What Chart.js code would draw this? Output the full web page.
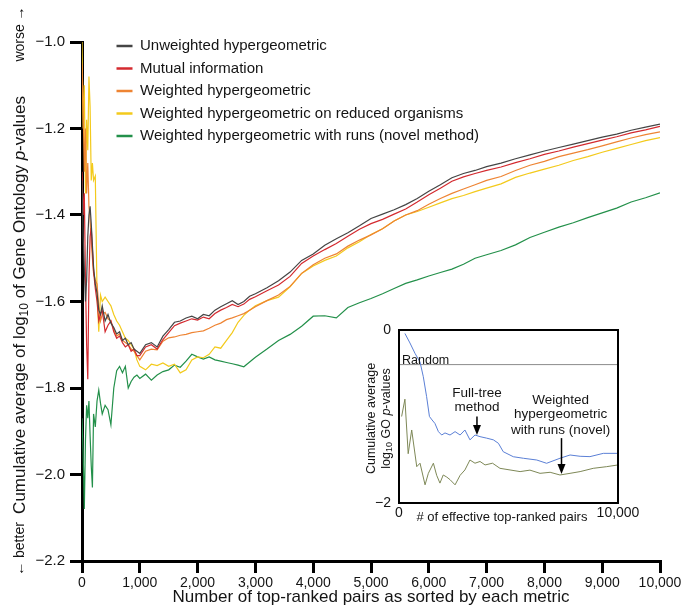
<!DOCTYPE html>
<html>
<head>
<meta charset="utf-8">
<script src="https://cdn.jsdelivr.net/npm/chart.js@4.4.1/dist/chart.umd.min.js"></script>
<style>
  html, body { margin: 0; padding: 0; background: #fff; }
  #wrap { position: relative; width: 685px; height: 615px; }
  #wrap canvas { position: absolute; left: 0; top: 0; }
</style>
</head>
<body>
<div id="wrap">
  <canvas id="main" width="685" height="615"></canvas>
  <canvas id="inset" width="685" height="615"></canvas>
</div>
<script>
// number of top-ranked pairs (x positions shared by all five curves)
var pairs = [0, 20, 40, 60, 80, 100, 120, 140, 160, 180, 200, 230, 260, 290, 320, 350, 400, 450, 500, 550,
  600, 650, 700, 750, 800, 850, 900, 950, 1000,
  1100, 1200, 1300, 1400, 1500, 1600, 1700, 1800, 1900, 2000, 2100, 2200, 2300, 2400, 2500, 2600, 2700, 2800, 2900, 3000,
  3200, 3400, 3600, 3800, 4000, 4200, 4400, 4600, 4800, 5000, 5200, 5400, 5600, 5800, 6000, 6200, 6400, 6600, 6800,
  7000, 7250, 7500, 7750, 8000, 8250, 8500, 8750, 9000, 9250, 9500, 9750, 10000];

var unweighted = [-1.32, -1.45, -1.52, -1.60, -1.55, -1.45, -1.40, -1.38, -1.42, -1.47, -1.52, -1.56, -1.58, -1.62, -1.63, -1.61, -1.645, -1.63, -1.65, -1.66,
  -1.675, -1.67, -1.69, -1.685, -1.70, -1.695, -1.71, -1.715, -1.72,
  -1.70, -1.695, -1.705, -1.68, -1.665, -1.648, -1.645, -1.638, -1.634, -1.640, -1.630, -1.633, -1.620, -1.612, -1.605, -1.598, -1.607, -1.600, -1.588, -1.582,
  -1.568, -1.552, -1.532, -1.505, -1.490, -1.470, -1.455, -1.441, -1.425, -1.408, -1.398, -1.388, -1.376, -1.362, -1.345, -1.330, -1.314, -1.304, -1.297,
  -1.288, -1.280, -1.270, -1.261, -1.252, -1.244, -1.236, -1.228, -1.220, -1.213, -1.204, -1.197, -1.190];

var mutualInfo = [-1.30, -1.40, -1.35, -1.55, -1.70, -1.78, -1.55, -1.45, -1.43, -1.48, -1.53, -1.57, -1.60, -1.645, -1.63, -1.62, -1.67, -1.655, -1.645, -1.67,
  -1.685, -1.68, -1.695, -1.705, -1.70, -1.715, -1.71, -1.725, -1.725,
  -1.705, -1.700, -1.710, -1.688, -1.672, -1.656, -1.650, -1.645, -1.640, -1.643, -1.636, -1.640, -1.628, -1.620, -1.614, -1.607, -1.612, -1.606, -1.595, -1.589,
  -1.575, -1.562, -1.542, -1.512, -1.495, -1.480, -1.466, -1.449, -1.433, -1.420, -1.410, -1.398, -1.386, -1.370, -1.353, -1.338, -1.322, -1.312, -1.304,
  -1.297, -1.289, -1.279, -1.270, -1.260, -1.252, -1.243, -1.235, -1.227, -1.219, -1.210, -1.203, -1.195];

var weighted = [-1.05, -1.15, -1.30, -1.20, -1.35, -1.28, -1.38, -1.41, -1.46, -1.50, -1.535, -1.55, -1.56, -1.61, -1.645, -1.63, -1.625, -1.64, -1.645, -1.665,
  -1.68, -1.675, -1.69, -1.695, -1.70, -1.71, -1.715, -1.725, -1.735,
  -1.715, -1.710, -1.712, -1.692, -1.684, -1.682, -1.678, -1.676, -1.672, -1.670, -1.668, -1.662, -1.655, -1.650, -1.642, -1.638, -1.633, -1.628, -1.620, -1.612,
  -1.598, -1.585, -1.565, -1.535, -1.515, -1.500, -1.490, -1.472, -1.458, -1.446, -1.432, -1.414, -1.400, -1.390, -1.375, -1.362, -1.350, -1.340, -1.330,
  -1.320, -1.311, -1.297, -1.285, -1.276, -1.265, -1.257, -1.249, -1.240, -1.231, -1.222, -1.214, -1.208];

var weightedReduced = [-1.00, -1.20, -1.10, -1.35, -1.18, -1.25, -1.08, -1.15, -1.32, -1.28, -1.32, -1.31, -1.58, -1.67, -1.585, -1.60, -1.59, -1.60, -1.61, -1.63,
  -1.645, -1.655, -1.67, -1.685, -1.69, -1.70, -1.71, -1.735, -1.75,
  -1.758, -1.745, -1.748, -1.742, -1.750, -1.745, -1.765, -1.758, -1.735, -1.728, -1.730, -1.722, -1.705, -1.708, -1.690, -1.672, -1.648, -1.632, -1.620, -1.610,
  -1.598, -1.590, -1.566, -1.535, -1.518, -1.505, -1.495, -1.476, -1.462, -1.445, -1.432, -1.414, -1.400, -1.392, -1.382, -1.372, -1.362, -1.355, -1.346,
  -1.338, -1.328, -1.313, -1.303, -1.294, -1.285, -1.274, -1.265, -1.255, -1.246, -1.237, -1.228, -1.221];

var weightedRuns = [-1.87, -1.95, -2.08, -1.92, -1.84, -1.87, -1.83, -1.91, -1.98, -2.03, -1.86, -1.89, -1.83, -1.805, -1.835, -1.86, -1.84, -1.85, -1.885, -1.80,
  -1.76, -1.75, -1.765, -1.75, -1.80, -1.785, -1.775, -1.77, -1.778,
  -1.768, -1.782, -1.770, -1.762, -1.758, -1.747, -1.752, -1.738, -1.722, -1.728, -1.733, -1.728, -1.735, -1.738, -1.741, -1.744, -1.747, -1.751, -1.740, -1.729,
  -1.710, -1.690, -1.676, -1.657, -1.634, -1.633, -1.638, -1.614, -1.603, -1.593, -1.582, -1.570, -1.558, -1.550, -1.541, -1.533, -1.525, -1.514, -1.500,
  -1.492, -1.482, -1.469, -1.452, -1.440, -1.428, -1.418, -1.406, -1.395, -1.384, -1.370, -1.360, -1.349];

var seriesNames = ['Unweighted hypergeometric', 'Mutual information', 'Weighted hypergeometric',
  'Weighted hypergeometric on reduced organisms', 'Weighted hypergeometric with runs (novel method)'];
var seriesColors = ['#454545', '#d42a2f', '#ee8433', '#f3ca1c', '#23904a'];
var yTicks = [-2.2, -2.0, -1.8, -1.6, -1.4, -1.2, -1.0];

// inset: # of effective top-ranked pairs
var fullTreeX = [270, 500, 730, 960, 1110, 1260, 1390, 1510, 1640, 1800, 1950, 2100, 2330, 2560, 2790, 3010, 3240, 3470, 3700,
  4000, 4310, 4540, 4760, 5220, 5680, 6290, 6740, 7350, 7810, 8270, 8720, 9330, 10000];
var fullTreeY = [-0.04, -0.15, -0.27, -0.37, -0.54, -0.77, -1.00, -1.04, -1.08, -1.175, -1.214, -1.19, -1.214, -1.175, -1.214, -1.156, -1.27, -1.214, -1.233,
  -1.25, -1.27, -1.31, -1.407, -1.465, -1.483, -1.503, -1.541, -1.483, -1.445, -1.46, -1.464, -1.426, -1.426];
var novelX = [120, 270, 420, 580, 810, 960, 1190, 1340, 1570, 1720, 1870, 2020, 2180, 2330, 2560, 2790, 3010, 3240, 3470, 3700,
  3930, 4270, 4610, 5070, 5530, 5980, 6440, 6900, 7350, 7810, 8270, 8870, 9480, 10000];
var novelY = [-1.00, -0.80, -1.43, -1.156, -1.58, -1.54, -1.79, -1.657, -1.54, -1.68, -1.77, -1.676, -1.70, -1.73, -1.79, -1.68, -1.618, -1.503, -1.54, -1.52,
  -1.56, -1.54, -1.599, -1.618, -1.637, -1.62, -1.657, -1.645, -1.676, -1.657, -1.637, -1.599, -1.58, -1.56];
var randomLevel = -0.4;

var FONT = '"Liberation Sans", Arial, Helvetica, sans-serif';
var INK = '#141414';

function minus(s) { return String(s).replace('-', '\u2212'); }
function font(size, italic) { return (italic ? 'italic ' : '') + size + 'px ' + FONT; }

// draw a line of text made of runs (for subscripts / italics), centred at cx, cy
function richText(ctx, runs, cx, cy, vertical) {
  ctx.save();
  ctx.translate(cx, cy);
  if (vertical) ctx.rotate(-Math.PI / 2);
  ctx.textBaseline = 'middle';
  ctx.textAlign = 'left';
  ctx.fillStyle = INK;
  var total = 0;
  runs.forEach(function (r) { ctx.font = r.font; r.w = ctx.measureText(r.text).width; total += r.w; });
  var x = -total / 2;
  runs.forEach(function (r) { ctx.font = r.font; ctx.fillText(r.text, x, r.dy || 0); x += r.w; });
  ctx.restore();
}

var mainDecor = {
  id: 'mainDecor',
  afterLayout: function (chart) {
    // put the legend inside the plot, top left
    var lg = chart.legend;
    lg.left = 109;
    lg.top = 31;
  },
  afterDraw: function (chart) {
    var ctx = chart.ctx;
    var y = chart.scales.y;
    richText(ctx, [
      {text: 'Cumulative average of log', font: font(17)},
      {text: '10', font: font(12), dy: 5},
      {text: ' of Gene Ontology ', font: font(17)},
      {text: 'p', font: font(17, true)},
      {text: '-values', font: font(17)}
    ], 20, 305, true);
    richText(ctx, [{text: 'worse \u2192', font: font(14)}], 20, y.getPixelForValue(-1.0) - 8, true);
    richText(ctx, [{text: '\u2190 better', font: font(14)}], 20, y.getPixelForValue(-2.2) - 12, true);
  }
};

var mainChart = new Chart(document.getElementById('main'), {
  type: 'line',
  data: {
    datasets: seriesNames.map(function (name, k) {
      var vals = [unweighted, mutualInfo, weighted, weightedReduced, weightedRuns][k];
      return {
        label: name,
        data: pairs.map(function (x, i) { return {x: x, y: vals[i]}; }),
        borderColor: seriesColors[k],
        backgroundColor: seriesColors[k],
        borderWidth: 1.2,
        pointRadius: 0,
        tension: 0
      };
    })
  },
  options: {
    responsive: false,
    animation: false,
    layout: {padding: {left: 0, right: 25, top: 42, bottom: 0}},
    plugins: {
      tooltip: {enabled: false},
      legend: {
        position: 'chartArea',
        align: 'start',
        labels: {
          usePointStyle: true,
          pointStyle: 'line',
          pointStyleWidth: 16,
          padding: 7.5,
          color: INK,
          font: {family: FONT, size: 15},
          generateLabels: function (chart) {
            return Chart.defaults.plugins.legend.labels.generateLabels(chart).map(function (it) {
              it.lineWidth = 2.5;
              return it;
            });
          }
        }
      }
    },
    scales: {
      x: {
        type: 'linear',
        min: 0,
        max: 10000,
        ticks: {
          stepSize: 1000, autoSkip: false, maxRotation: 0, padding: 2, color: INK,
          font: {family: FONT, size: 14},
          callback: function (v) { return v.toLocaleString('en-US'); }
        },
        grid: {drawOnChartArea: false, color: '#000', lineWidth: 3, tickLength: 12},
        border: {display: true, color: '#000', width: 3},
        title: {
          display: true,
          text: 'Number of top-ranked pairs as sorted by each metric',
          color: INK,
          font: {family: FONT, size: 17},
          padding: {top: 0, bottom: 7}
        },
        afterFit: function (s) { s.height = 54; }
      },
      y: {
        min: -2.2,
        max: -1.0,
        afterBuildTicks: function (s) { s.ticks = yTicks.map(function (v) { return {value: v}; }); },
        ticks: {
          padding: 5, color: INK,
          font: {family: FONT, size: 15},
          callback: function (v) { return minus(v.toFixed(1)); }
        },
        grid: {drawOnChartArea: false, color: '#000', lineWidth: 3, tickLength: 12},
        border: {display: true, color: '#000', width: 3},
        afterFit: function (s) { s.width = 82; }
      }
    }
  },
  plugins: [mainDecor]
});

function arrow(ctx, x, y1, y2) {
  ctx.save();
  ctx.strokeStyle = '#000';
  ctx.fillStyle = '#000';
  ctx.lineWidth = 1.5;
  ctx.beginPath();
  ctx.moveTo(x, y1);
  ctx.lineTo(x, y2 - 8);
  ctx.stroke();
  ctx.beginPath();
  ctx.moveTo(x - 4, y2 - 10);
  ctx.lineTo(x + 4, y2 - 10);
  ctx.lineTo(x, y2);
  ctx.closePath();
  ctx.fill();
  ctx.restore();
}

var insetDecor = {
  id: 'insetDecor',
  beforeDatasetsDraw: function (chart) {
    var a = chart.chartArea, ctx = chart.ctx;
    ctx.save();
    ctx.fillStyle = '#fff';
    ctx.fillRect(a.left, a.top, a.right - a.left, a.bottom - a.top);
    ctx.restore();
  },
  afterDatasetsDraw: function (chart) {
    var a = chart.chartArea, ctx = chart.ctx;
    var sx = chart.scales.x, sy = chart.scales.y;
    ctx.save();
    ctx.strokeStyle = '#000';
    ctx.lineWidth = 2;
    ctx.strokeRect(a.left, a.top, a.right - a.left, a.bottom - a.top);

    ctx.fillStyle = INK;
    ctx.font = font(12.5);
    ctx.textAlign = 'left';
    ctx.textBaseline = 'alphabetic';
    ctx.fillText('Random', a.left + 3, sy.getPixelForValue(randomLevel) - 1);

    ctx.textAlign = 'center';
    ctx.textBaseline = 'middle';
    ctx.font = font(13.5);
    var fx = sx.getPixelForValue(3560);
    ctx.fillText('Full-tree', fx, sy.getPixelForValue(-0.728));
    ctx.fillText('method', fx, sy.getPixelForValue(-0.89));
    arrow(ctx, fx, sy.getPixelForValue(-1.0), sy.getPixelForValue(-1.214));

    var nx = sx.getPixelForValue(7380);
    ctx.fillText('Weighted', nx, sy.getPixelForValue(-0.81));
    ctx.fillText('hypergeometric', nx, sy.getPixelForValue(-0.98));
    ctx.fillText('with runs (novel)', nx, sy.getPixelForValue(-1.156));
    arrow(ctx, sx.getPixelForValue(7420), sy.getPixelForValue(-1.25), sy.getPixelForValue(-1.665));

    ctx.font = font(13);
    ctx.fillText('# of effective top-ranked pairs', sx.getPixelForValue(4700), a.bottom + 14);
    ctx.restore();

    var cy = (a.top + a.bottom) / 2 + 2;
    richText(ctx, [{text: 'Cumulative average', font: font(12.5)}], a.left - 27, cy, true);
    richText(ctx, [
      {text: 'log', font: font(12.5)},
      {text: '10', font: font(9), dy: 3},
      {text: ' GO ', font: font(12.5)},
      {text: 'p', font: font(12.5, true)},
      {text: '-values', font: font(12.5)}
    ], a.left - 12, cy, true);
  }
};

var insetChart = new Chart(document.getElementById('inset'), {
  type: 'line',
  data: {
    datasets: [
      {
        label: 'Full-tree method',
        data: fullTreeX.map(function (x, i) { return {x: x, y: fullTreeY[i]}; }),
        borderColor: '#5b80d6', borderWidth: 1, pointRadius: 0, tension: 0
      },
      {
        label: 'Weighted hypergeometric with runs (novel)',
        data: novelX.map(function (x, i) { return {x: x, y: novelY[i]}; }),
        borderColor: '#7e8857', borderWidth: 1, pointRadius: 0, tension: 0
      },
      {
        label: 'Random',
        data: [{x: 0, y: randomLevel}, {x: 10000, y: randomLevel}],
        borderColor: '#8c8c8c', borderWidth: 1, pointRadius: 0
      }
    ]
  },
  options: {
    responsive: false,
    animation: false,
    layout: {padding: {left: 369, right: 67, top: 330, bottom: 87}},
    plugins: {legend: {display: false}, tooltip: {enabled: false}},
    scales: {
      x: {
        type: 'linear', min: 0, max: 10000,
        afterBuildTicks: function (s) { s.ticks = [{value: 0}, {value: 10000}]; },
        ticks: {
          padding: 2, color: INK, maxRotation: 0, autoSkip: false,
          font: {family: FONT, size: 14},
          callback: function (v) { return v.toLocaleString('en-US'); }
        },
        grid: {display: false, drawTicks: false},
        border: {display: false},
        afterFit: function (s) { s.height = 25; }
      },
      y: {
        min: -2, max: 0,
        afterBuildTicks: function (s) { s.ticks = [{value: 0}, {value: -2}]; },
        ticks: {
          padding: 8, color: INK,
          font: {family: FONT, size: 14},
          callback: function (v) { return minus(v); }
        },
        grid: {display: false, drawTicks: false},
        border: {display: false},
        afterFit: function (s) { s.width = 30; }
      }
    }
  },
  plugins: [insetDecor]
});
</script>
</body>
</html>
